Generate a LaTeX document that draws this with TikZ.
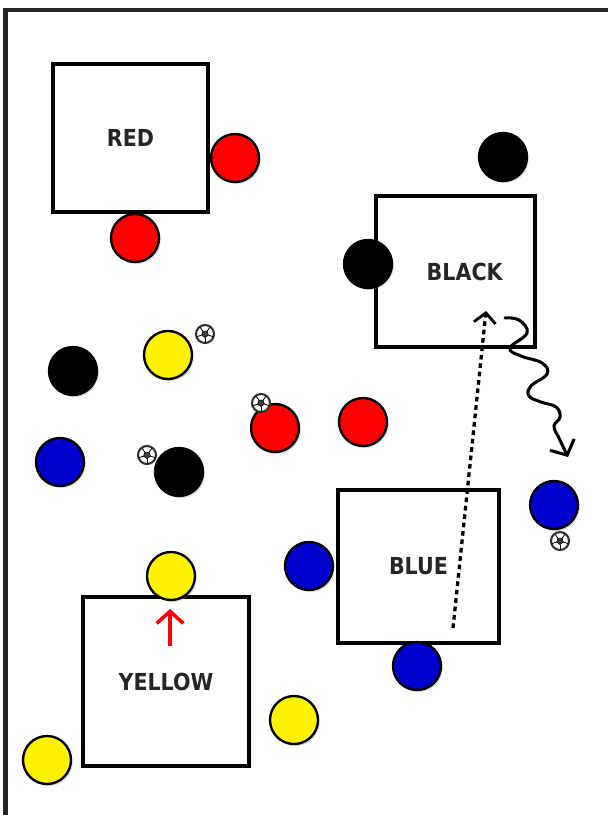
\documentclass[tikz,border=0pt]{standalone}
\usepackage{fontspec}
\setsansfont{DejaVu Sans}[FakeStretch=0.88]
\usetikzlibrary{arrows.meta,shadows}

\tikzset{
  socball/.pic={
    \draw[line width=1.8pt, draw=black!80, fill=white] (0,0) circle[radius=9];
    \draw[line width=0.5pt, fill=black!75] (90:3.6) -- (162:3.6) -- (234:3.6) -- (306:3.6) -- (18:3.6) -- cycle;
    \foreach \a in {90,162,234,306,18} \draw[line width=0.7pt] (\a:3.6) -- (\a:9);
  }
}

\begin{document}
\begin{tikzpicture}[
    x=0.03cm, y=-0.03cm,
    every node/.style={font=\sffamily\bfseries\fontsize{20}{20}\selectfont, text=black!85},
    zone/.style 2 args={draw, line width=3pt, fill=white, minimum width=#1*0.03cm, minimum height=#2*0.03cm, inner sep=0pt},
    ball/.style={circle, draw, line width=2pt, minimum size=1.44cm, inner sep=0pt,
      drop shadow={opacity=0.3, shadow xshift=0.05cm, shadow yshift=-0.06cm}},
    frame/.style={line width=3.5pt, draw=black!85},
    pass/.style={line width=2.8pt, dash pattern=on 4pt off 3.2pt, -{Straight Barb[length=0.3cm, width=0.65cm, line width=2.4pt]}},
    dribble/.style={line width=2.6pt, line cap=round, -{Straight Barb[length=0.35cm, width=0.8cm, line width=2.6pt]}},
    push/.style={line width=3pt, red, -{Straight Barb[length=0.36cm, width=0.8cm, line width=3pt]}}
  ]
  \useasboundingbox (0,0) rectangle (607,815);
  \draw[frame] (5.5,830) -- (5.5,10) -- (620,10);

  % zones
  \node[zone={155}{148}] (red) at (130.5,138) {RED};
  \node[zone={159}{151}] (black) at (455.5,271.5) {\hspace{0.55cm}BLACK};
  \node[zone={161}{153}] (blue) at (418.5,566.5) {BLUE};
  \node[zone={166}{169}] (yellow) at (166,681.5) {YELLOW};

  % red team
  \node[ball, fill=red] (r1) at (235,158) {};
  \node[ball, fill=red] (r2) at (135,238) {};
  \node[ball, fill=red] (r3) at (275,428) {};
  \node[ball, fill=red] (r4) at (363,422) {};
  % black team
  \node[ball, fill=black] (k1) at (503,157) {};
  \node[ball, fill=black] (k2) at (368,264) {};
  \node[ball, fill=black] (k3) at (73,371) {};
  \node[ball, fill=black] (k4) at (179,472) {};
  % blue team
  \node[ball, fill=blue!80!black] (b1) at (60,462) {};
  \node[ball, fill=blue!80!black] (b2) at (554,505) {};
  \node[ball, fill=blue!80!black] (b3) at (309,566) {};
  \node[ball, fill=blue!80!black] (b4) at (417,666) {};
  % yellow team
  \node[ball, fill=yellow] (y1) at (168,355) {};
  \node[ball, fill=yellow] (y2) at (171,576) {};
  \node[ball, fill=yellow] (y3) at (294,720) {};
  \node[ball, fill=yellow] (y4) at (47,760) {};

  % footballs
  \pic at (205,334) {socball};
  \pic at (261,403) {socball};
  \pic at (147,455) {socball};
  \pic at (560,541) {socball};

  % moves
  \coordinate (passfrom) at (453,628);
  \coordinate (passto) at (486,311);
  \draw[pass] (passfrom) -- (passto);

  \coordinate (dribfrom) at (505,318);
  \coordinate (dribto) at (568,457);
  \draw[dribble] plot[smooth, tension=0.7] coordinates {(dribfrom) (519,320) (527,333) (510,348) (521,356) (542,363) (547,374) (531,386) (529,396) (541,402) (556,407) (560,417) (554,426) (558,436)} -- (dribto);

  \coordinate (pushfrom) at (170,646);
  \coordinate (pushto) at (170,609);
  \draw[push] (pushfrom) -- (pushto);
\end{tikzpicture}
\end{document}
